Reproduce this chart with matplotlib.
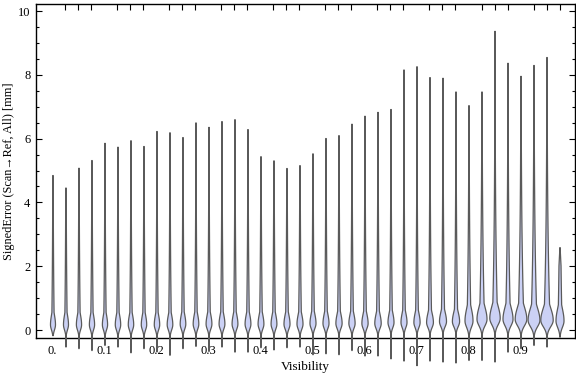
import numpy as np
import matplotlib
matplotlib.use("Agg")
import matplotlib.pyplot as plt
from matplotlib.ticker import MultipleLocator, FixedLocator

plt.rcParams['font.family'] = ['Liberation Serif', 'DejaVu Serif']

# ---- data ----
visibility = [0.000, 0.025, 0.050, 0.075, 0.100, 0.125, 0.150, 0.175, 0.200, 0.225,
              0.250, 0.275, 0.300, 0.325, 0.350, 0.375, 0.400, 0.425, 0.450, 0.475,
              0.500, 0.525, 0.550, 0.575, 0.600, 0.625, 0.650, 0.675, 0.700, 0.725,
              0.750, 0.775, 0.800, 0.825, 0.850, 0.875, 0.900, 0.925, 0.950, 0.975]
err_max = [4.86, 4.47, 5.09, 5.33, 5.87, 5.75, 5.95, 5.77, 6.24, 6.20,
           6.05, 6.51, 6.37, 6.55, 6.61, 6.30, 5.45, 5.32, 5.08, 5.17,
           5.54, 6.02, 6.11, 6.47, 6.72, 6.84, 6.93, 8.17, 8.27, 7.93,
           7.91, 7.48, 7.05, 7.48, 9.38, 8.38, 7.97, 8.31, 8.56, 2.60]
err_min = [-0.16, -0.52, -0.57, -0.63, -0.47, -0.52, -0.70, -0.57, -0.67, -0.78,
           -0.57, -0.50, -0.66, -0.52, -0.68, -0.68, -0.54, -0.61, -0.54, -0.52,
           -0.76, -0.73, -0.76, -0.63, -0.80, -0.80, -0.89, -0.96, -1.10, -0.96,
           -0.99, -1.02, -0.94, -0.94, -0.99, -0.68, -0.57, -0.47, -0.52, -0.21]
# relative density width of the main bulge and the location of the mode
bulge_width = [2.5, 2.5, 2.6, 2.6, 2.6, 2.7, 2.7, 2.7, 2.7, 2.8,
               2.8, 2.8, 2.9, 2.9, 2.9, 2.9, 2.9, 2.9, 3.0, 3.0,
               3.0, 3.0, 3.1, 3.1, 3.1, 3.2, 3.0, 3.0, 3.1, 3.4,
               3.5, 3.6, 4.0, 5.0, 5.2, 5.0, 5.8, 5.9, 6.2, 4.0]
mode_pos = [0.18, 0.18, 0.18, 0.18, 0.18, 0.18, 0.18, 0.18, 0.18, 0.18,
            0.20, 0.20, 0.20, 0.20, 0.20, 0.20, 0.20, 0.20, 0.20, 0.20,
            0.22, 0.22, 0.22, 0.22, 0.22, 0.22, 0.25, 0.25, 0.25, 0.25,
            0.28, 0.28, 0.30, 0.35, 0.38, 0.35, 0.35, 0.32, 0.32, 0.30]

yticks = [0, 2, 4, 6, 8, 10]
xticks = [0.0, 0.1, 0.2, 0.3, 0.4, 0.5, 0.6, 0.7, 0.8, 0.9]
xticklabels = ["0.", "0.1", "0.2", "0.3", "0.4", "0.5", "0.6", "0.7", "0.8", "0.9"]

# ---- figure ----
fig = plt.figure(figsize=(5.76, 3.77), dpi=100)
ax = fig.add_axes([36/576, 1 - 337.5/377, (575 - 36)/576, (337.5 - 4)/377])
ax.set_xlim(-0.0317, 1.0048)
ax.set_ylim(-0.235, 10.22)

px = 1.0 / 520.0  # one pixel in data-x units
fill_c = '#cbd1f5'
edge_c = '#5a5a5a'

for x, lo, hi, w, c in zip(visibility, err_min, err_max, bulge_width, mode_pos):
    y = np.linspace(lo, hi, 600)
    sig_up = 0.30 if w < 4 else 0.38
    sig_dn = 0.16 if w < 4 else 0.20
    bulge = np.where(y >= c,
                     np.exp(-0.5 * ((y - c) / sig_up) ** 2),
                     np.exp(-0.5 * ((y - c) / sig_dn) ** 2))
    tail = np.where(y >= c, 0.5 * np.exp(-(y - c) / 2.6), 0.5 * np.exp(-0.5 * ((y - c) / 0.12) ** 2))
    taper = np.clip((hi - y) / (0.25 * (hi - c)), 0, 1) ** 0.7
    half = w * px * np.maximum(bulge, tail) * taper
    half = np.maximum(half, 0.0)
    ax.fill_betweenx(y, x - half, x + half, facecolor=fill_c, edgecolor=edge_c,
                     linewidth=0.9, clip_on=False, zorder=3)

for s in ax.spines.values():
    s.set_linewidth(1.0)
    s.set_color('black')

ax.yaxis.set_major_locator(FixedLocator(yticks))
ax.yaxis.set_minor_locator(MultipleLocator(0.5))
ax.set_yticklabels([str(v) for v in yticks])
ax.tick_params(axis='y', which='major', direction='in', length=4, width=0.8,
               left=True, right=True, labelright=False, labelsize=9, pad=4)
ax.tick_params(axis='y', which='minor', direction='in', length=2.5, width=0.8,
               left=True, right=True)

ax.xaxis.set_major_locator(FixedLocator(xticks))
ax.set_xticklabels(xticklabels)
ax.xaxis.set_minor_locator(FixedLocator(visibility))
ax.tick_params(axis='x', which='major', bottom=False, top=False, labelsize=9, pad=2)
ax.tick_params(axis='x', which='minor', direction='in', length=4, width=0.8,
               bottom=False, top=True)

ax.set_xlabel("Visibility", fontsize=9.5, labelpad=3)
ax.set_ylabel("SignedError (Scan\u2192Ref, All) [mm]", fontsize=8.8, labelpad=2)

fig.savefig("out.png", dpi=100)
